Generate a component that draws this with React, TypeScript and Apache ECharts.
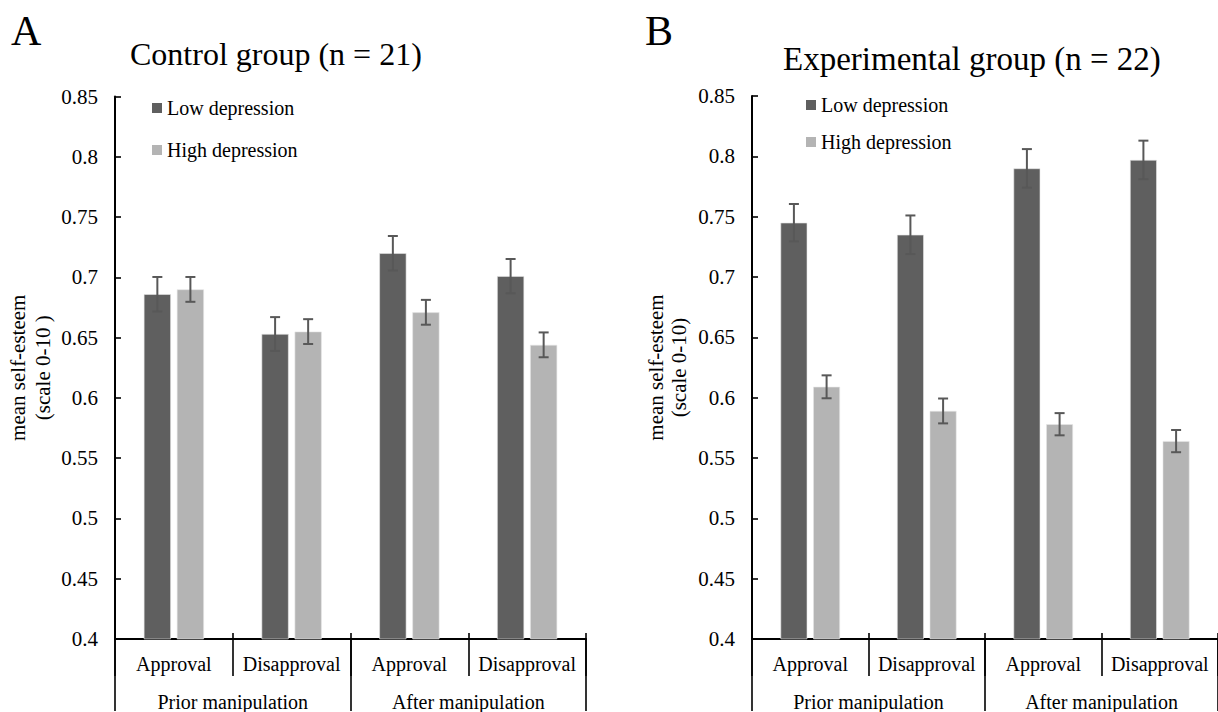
import React, { useEffect, useRef } from "react";
import * as echarts from "echarts";

const categories = ["Approval", "Disapproval", "Approval", "Disapproval"];
const groups = ["Prior manipulation", "After manipulation"];
const seriesNames = ["Low depression", "High depression"];

const controlLow = [0.686, 0.653, 0.72, 0.701];
const controlLowErr = [0.0143, 0.014, 0.0143, 0.0142];
const controlHigh = [0.69, 0.655, 0.671, 0.644];
const controlHighErr = [0.0103, 0.0103, 0.0103, 0.0103];

const expLow = [0.745, 0.735, 0.79, 0.797];
const expLowErr = [0.0155, 0.016, 0.016, 0.016];
const expHigh = [0.609, 0.589, 0.578, 0.564];
const expHighErr = [0.0095, 0.0103, 0.0092, 0.0092];

const DARK = "#5f5f5f";
const LIGHT = "#b4b4b4";
const ERR = "#585858";
const FONT = '"Liberation Serif", "Times New Roman", serif';

const BAR_W = 0.23;
const BAR_GAP = 0.22;

function errSeries(vals: number[], errs: number[], sign: number, xIdx: number, yIdx: number) {
  return {
    type: "custom",
    xAxisIndex: xIdx,
    yAxisIndex: yIdx,
    z: 5,
    silent: true,
    data: vals.map((v, i) => [i, v, errs[i]]),
    renderItem: (params: any, api: any) => {
      const xi = api.value(0);
      const v = api.value(1);
      const e = api.value(2);
      const band = api.size([1, 0])[0];
      const off = (sign * band * BAR_W * (1 + BAR_GAP)) / 2;
      const top = api.coord([xi, v + e]);
      const bot = api.coord([xi, v - e]);
      const x = top[0] + off;
      const hw = 5;
      const style = { stroke: ERR, lineWidth: 2 };
      return {
        type: "group",
        children: [
          { type: "line", shape: { x1: x, y1: top[1], x2: x, y2: bot[1] }, style },
          { type: "line", shape: { x1: x - hw, y1: top[1], x2: x + hw, y2: top[1] }, style },
          { type: "line", shape: { x1: x - hw, y1: bot[1], x2: x + hw, y2: bot[1] }, style },
        ],
      };
    },
  };
}

function xAxesFor(gridIndex: number) {
  const black = "#000";
  return [
    {
      type: "category",
      gridIndex,
      data: categories,
      position: "bottom",
      axisLine: { show: true, lineStyle: { color: black, width: 2 } },
      axisTick: { show: true, inside: false, length: 37, lineStyle: { color: black, width: 1.6 } },
      axisLabel: { show: true, margin: 15, fontSize: 20, color: black, fontFamily: FONT, interval: 0 },
      splitLine: { show: false },
    },
    {
      type: "category",
      gridIndex,
      data: groups,
      position: "bottom",
      axisLine: { show: false },
      axisTick: { show: true, inside: false, length: 72, lineStyle: { color: black, width: 1.6 } },
      axisLabel: { show: true, margin: 53, fontSize: 20, color: black, fontFamily: FONT, interval: 0 },
      splitLine: { show: false },
    },
    {
      type: "category",
      gridIndex,
      data: categories,
      position: "bottom",
      axisLine: { show: false },
      axisTick: { show: true, inside: true, length: 6, lineStyle: { color: black, width: 1.6 } },
      axisLabel: { show: false },
      splitLine: { show: false },
    },
  ];
}

function yAxisFor(gridIndex: number, name: string, nameGap: number, lineHeight: number) {
  return {
    type: "value",
    gridIndex,
    min: 0.4,
    max: 0.85,
    interval: 0.05,
    name,
    nameLocation: "middle",
    nameRotate: 90,
    nameGap,
    nameTextStyle: { fontSize: 21, color: "#000", fontFamily: FONT, lineHeight, align: "center" },
    axisLine: { show: true, lineStyle: { color: "#000", width: 2 } },
    axisTick: { show: true, inside: true, length: 6, lineStyle: { color: "#000", width: 1.6 } },
    axisLabel: {
      show: true,
      fontSize: 21,
      color: "#000",
      fontFamily: FONT,
      margin: 17,
      formatter: (v: number) => String(+v.toFixed(2)),
    },
    splitLine: { show: false },
  };
}

function barSeries(name: string, vals: number[], color: string, xIdx: number, yIdx: number) {
  return {
    type: "bar",
    name,
    xAxisIndex: xIdx,
    yAxisIndex: yIdx,
    data: vals,
    barWidth: `${BAR_W * 100}%`,
    barGap: `${BAR_GAP * 100}%`,
    itemStyle: { color, borderColor: "#e6e6e6", borderWidth: 0.6 },
    silent: true,
  };
}

export default function App() {
  const ref = useRef<HTMLDivElement>(null);
  useEffect(() => {
    document.body.style.margin = "0";
    if (!ref.current) return;
    const chart = echarts.init(ref.current, undefined, { renderer: "svg" });
    const legendCommon = {
      orient: "vertical",
      icon: "rect",
      itemWidth: 10,
      itemHeight: 10,
      padding: 0,
      selectedMode: false,
      data: seriesNames,
      textStyle: { fontSize: 20, lineHeight: 20, color: "#000", fontFamily: FONT },
      itemStyle: { borderWidth: 0 },
    };
    const titleStyle = (size: number) => ({ fontSize: size, fontWeight: "normal", color: "#000", fontFamily: FONT });
    chart.setOption({
      animation: false,
      backgroundColor: "#fff",
      textStyle: { fontFamily: FONT },
      title: [
        { text: "A", left: 11, top: 10, padding: 0, textStyle: titleStyle(42) },
        { text: "Control group (n = 21)", left: 130, top: 38, padding: 0, textStyle: titleStyle(32) },
        { text: "B", left: 645, top: 10, padding: 0, textStyle: titleStyle(42) },
        { text: "Experimental group (n = 22)", left: 783, top: 42, padding: 0, textStyle: titleStyle(33) },
      ],
      legend: [
        { ...legendCommon, left: 152, top: 98, itemGap: 22 },
        { ...legendCommon, left: 806, top: 95, itemGap: 17 },
      ],
      grid: [
        { left: 115, top: 96.5, width: 471, height: 544.5, containLabel: false },
        { left: 752, top: 96, width: 468, height: 544, containLabel: false },
      ],
      xAxis: [...xAxesFor(0), ...xAxesFor(1)],
      yAxis: [
        yAxisFor(0, "mean self-esteem\n(scale 0-10 )", 60, 25),
        yAxisFor(1, "mean self-esteem\n(scale 0-10)", 62, 23),
      ],
      series: [
        barSeries(seriesNames[0], controlLow, DARK, 0, 0),
        barSeries(seriesNames[1], controlHigh, LIGHT, 0, 0),
        errSeries(controlLow, controlLowErr, -1, 0, 0),
        errSeries(controlHigh, controlHighErr, 1, 0, 0),
        barSeries(seriesNames[0], expLow, DARK, 3, 1),
        barSeries(seriesNames[1], expHigh, LIGHT, 3, 1),
        errSeries(expLow, expLowErr, -1, 3, 1),
        errSeries(expHigh, expHighErr, 1, 3, 1),
      ],
    });
    return () => chart.dispose();
  }, []);
  return <div ref={ref} style={{ width: 1218, height: 712 }} />;
}
